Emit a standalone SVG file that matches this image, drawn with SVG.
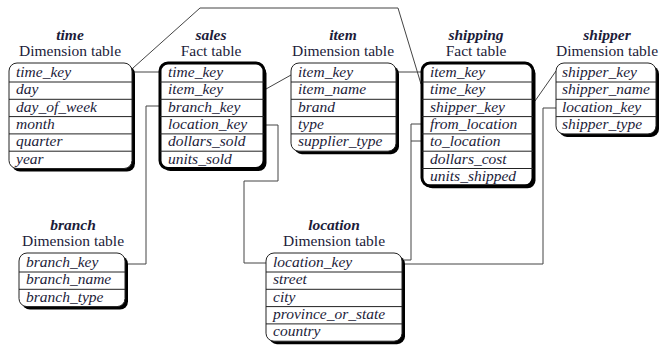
<svg xmlns="http://www.w3.org/2000/svg" width="661" height="349" viewBox="0 0 661 349">
<style>
text{font-family:"Liberation Serif","Times New Roman",serif;font-size:15.5px;fill:#1c1c3a}
.nm{font-weight:bold;font-style:italic;text-anchor:middle}
.sub{text-anchor:middle}
.row{font-style:italic}
.sh{fill:#000}
.dim{fill:#fff;stroke:#222;stroke-width:1}
.fact{fill:#fff;stroke:#000;stroke-width:3}
.sep{stroke:#222;stroke-width:1}
.con{fill:none;stroke:#444;stroke-width:1}
</style>
<rect width="661" height="349" fill="#fff"/>
<g id="connectors">
<path class="con" d="M133 72H160"/>
<path class="con" d="M133 68L200 8H398L421 84"/>
<path class="con" d="M266 89L291 75"/>
<path class="con" d="M160 106H146V264H128"/>
<path class="con" d="M265 125H278V181H244V263H266"/>
<path class="con" d="M397 72H422"/>
<path class="con" d="M422 124H411M422 141H411M411 124V260H404"/>
<path class="con" d="M535 101L556 71"/>
<path class="con" d="M556 108H543V264H404"/>
</g>
<g id="time">
<text class="nm" x="70" y="40">time</text>
<text class="sub" x="70" y="56">Dimension table</text>
<rect class="sh" x="12" y="66" width="123" height="105.5" rx="8"/>
<rect class="dim" x="9" y="63" width="123" height="105.5" rx="8"/>
<path class="sep" d="M9 82H132M9 99.3H132M9 116.6H132M9 133.9H132M9 151.2H132"/>
<text class="row" x="16" y="77">time_key</text>
<text class="row" x="16" y="94.3">day</text>
<text class="row" x="16" y="111.6">day_of_week</text>
<text class="row" x="16" y="128.9">month</text>
<text class="row" x="16" y="146.2">quarter</text>
<text class="row" x="16" y="163.5">year</text>
</g>
<g id="sales">
<text class="nm" x="211" y="40">sales</text>
<text class="sub" x="211" y="56">Fact table</text>
<rect class="sh" x="162.5" y="65.5" width="104" height="105.5" rx="8"/>
<rect class="fact" x="160" y="63" width="104" height="105.5" rx="8"/>
<path class="sep" d="M160 82H264M160 99.3H264M160 116.6H264M160 133.9H264M160 151.2H264"/>
<text class="row" x="168" y="77">time_key</text>
<text class="row" x="168" y="94.3">item_key</text>
<text class="row" x="168" y="111.6">branch_key</text>
<text class="row" x="168" y="128.9">location_key</text>
<text class="row" x="168" y="146.2">dollars_sold</text>
<text class="row" x="168" y="163.5">units_sold</text>
</g>
<g id="item">
<text class="nm" x="343" y="40">item</text>
<text class="sub" x="343" y="56">Dimension table</text>
<rect class="sh" x="294" y="66" width="105" height="88.2" rx="8"/>
<rect class="dim" x="291" y="63" width="105" height="88.2" rx="8"/>
<path class="sep" d="M291 82H396M291 99.3H396M291 116.6H396M291 133.9H396"/>
<text class="row" x="298" y="77">item_key</text>
<text class="row" x="298" y="94.3">item_name</text>
<text class="row" x="298" y="111.6">brand</text>
<text class="row" x="298" y="128.9">type</text>
<text class="row" x="298" y="146.2">supplier_type</text>
</g>
<g id="shipping">
<text class="nm" x="476" y="40">shipping</text>
<text class="sub" x="476" y="56">Fact table</text>
<rect class="sh" x="424.5" y="65.5" width="111" height="122.8" rx="8"/>
<rect class="fact" x="422" y="63" width="111" height="122.8" rx="8"/>
<path class="sep" d="M422 82H533M422 99.3H533M422 116.6H533M422 133.9H533M422 151.2H533M422 168.5H533"/>
<text class="row" x="430" y="77">item_key</text>
<text class="row" x="430" y="94.3">time_key</text>
<text class="row" x="430" y="111.6">shipper_key</text>
<text class="row" x="430" y="128.9">from_location</text>
<text class="row" x="430" y="146.2">to_location</text>
<text class="row" x="430" y="163.5">dollars_cost</text>
<text class="row" x="430" y="180.8">units_shipped</text>
</g>
<g id="shipper">
<text class="nm" x="607" y="40">shipper</text>
<text class="sub" x="607" y="56">Dimension table</text>
<rect class="sh" x="559" y="66" width="100" height="70.9" rx="8"/>
<rect class="dim" x="556" y="63" width="100" height="70.9" rx="8"/>
<path class="sep" d="M556 82H656M556 99.3H656M556 116.6H656"/>
<text class="row" x="562" y="77">shipper_key</text>
<text class="row" x="562" y="94.3">shipper_name</text>
<text class="row" x="562" y="111.6">location_key</text>
<text class="row" x="562" y="128.9">shipper_type</text>
</g>
<g id="branch">
<text class="nm" x="73" y="230">branch</text>
<text class="sub" x="73" y="246">Dimension table</text>
<rect class="sh" x="22" y="256" width="106" height="53.6" rx="8"/>
<rect class="dim" x="19" y="253" width="106" height="53.6" rx="8"/>
<path class="sep" d="M19 272H125M19 289.3H125"/>
<text class="row" x="26" y="267">branch_key</text>
<text class="row" x="26" y="284.3">branch_name</text>
<text class="row" x="26" y="301.6">branch_type</text>
</g>
<g id="location">
<text class="nm" x="334" y="230">location</text>
<text class="sub" x="334" y="246">Dimension table</text>
<rect class="sh" x="269" y="256" width="136" height="88.2" rx="8"/>
<rect class="dim" x="266" y="253" width="136" height="88.2" rx="8"/>
<path class="sep" d="M266 272H402M266 289.3H402M266 306.6H402M266 323.9H402"/>
<text class="row" x="273" y="267">location_key</text>
<text class="row" x="273" y="284.3">street</text>
<text class="row" x="273" y="301.6">city</text>
<text class="row" x="273" y="318.9">province_or_state</text>
<text class="row" x="273" y="336.2">country</text>
</g>
</svg>
